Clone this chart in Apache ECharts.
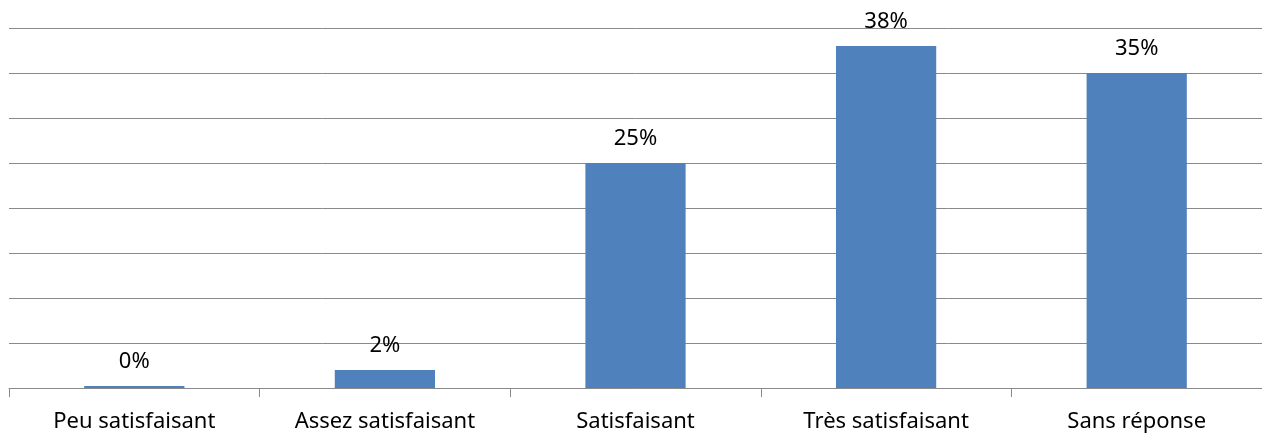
<!DOCTYPE html>
<html>
<head>
<meta charset="utf-8">
<script src="https://cdn.jsdelivr.net/npm/echarts@6/dist/echarts.min.js"></script>
<style>
  html, body { margin: 0; padding: 0; background: #ffffff; }
  #chart { width: 1262px; height: 436px; }
</style>
</head>
<body>
<div id="chart"></div>
<script>
// Satisfaction survey answers, share of respondents (%)
const categories = ['Peu satisfaisant', 'Assez satisfaisant', 'Satisfaisant', 'Très satisfaisant', 'Sans réponse'];
const shares = [0, 2, 25, 38, 35];

const chart = echarts.init(document.getElementById('chart'));
const font = '"Noto Sans", "Open Sans", sans-serif';

chart.setOption({
  animation: false,
  grid: { left: 9, right: 0, top: 28, bottom: 48, containLabel: false },
  xAxis: {
    type: 'category',
    data: categories,
    axisLine: { show: true, lineStyle: { color: '#8a8a8a', width: 1 } },
    axisTick: { show: true, length: 9, lineStyle: { color: '#8a8a8a' } },
    axisLabel: { color: '#000000', fontFamily: font, fontSize: 22, margin: 23 }
  },
  yAxis: {
    type: 'value',
    min: 0,
    max: 40,
    interval: 5,
    axisLine: { show: false },
    axisTick: { show: false },
    axisLabel: { show: false },
    splitLine: { show: true, lineStyle: { color: '#8a8a8a', width: 1 } }
  },
  series: [{
    type: 'bar',
    data: shares,
    barWidth: '40%',
    barMinHeight: 2,
    itemStyle: { color: '#4F81BD' },
    label: {
      show: true,
      position: 'top',
      distance: 13,
      formatter: p => p.value + '%',
      color: '#000000',
      fontFamily: font,
      fontSize: 22
    }
  }]
});
</script>
</body>
</html>
